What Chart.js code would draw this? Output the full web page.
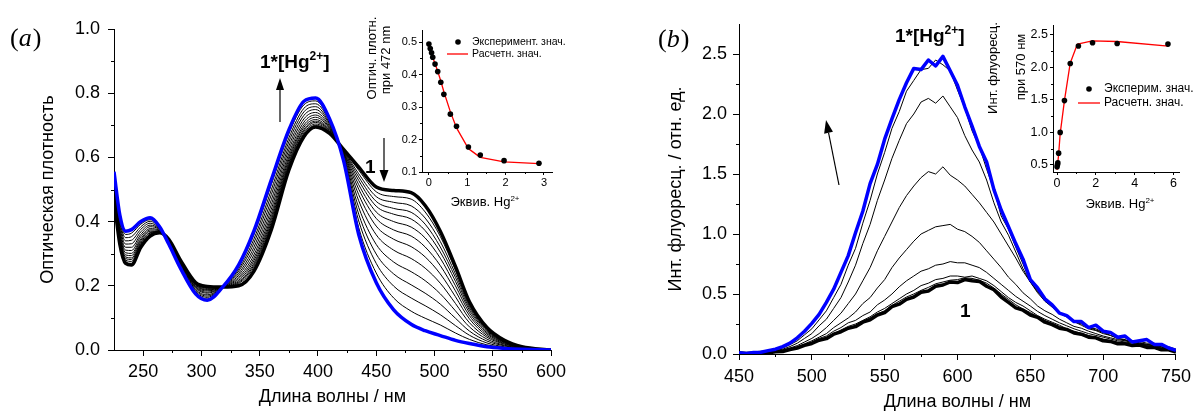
<!DOCTYPE html>
<html>
<head>
<meta charset="utf-8">
<script src="https://cdn.jsdelivr.net/npm/chart.js@4.4.1/dist/chart.umd.min.js"></script>
<style>
  body { margin: 0; background: #fff; }
  #fig { position: relative; width: 1197px; height: 416px; overflow: hidden; background: #fff; }
  #fig canvas { position: absolute; top: 0; }
</style>
</head>
<body>
<div id="fig">
  <canvas id="main-a" width="600" height="416" style="left:0"></canvas>
  <canvas id="inset-a" width="240" height="220" style="left:340px"></canvas>
  <canvas id="main-b" width="597" height="416" style="left:600px"></canvas>
  <canvas id="inset-b" width="237" height="220" style="left:960px"></canvas>
</div>
<script>
// ---- (a) absorption spectra ----
const absWave = [225, 230, 235, 240, 248, 256, 264, 272, 282, 295, 305, 318, 332, 345, 360, 375,
  388, 398, 410, 422, 435, 450, 465, 480, 492, 505, 518, 530, 545, 560, 575, 600];
const absInitial = [0.47, 0.33, 0.27, 0.265, 0.32, 0.355, 0.365, 0.345, 0.28, 0.21, 0.198, 0.196, 0.2, 0.245, 0.375, 0.56,
  0.665, 0.695, 0.675, 0.625, 0.57, 0.508, 0.497, 0.49, 0.45, 0.37, 0.26, 0.15, 0.07, 0.03, 0.01, 0];
const absFinal = [0.555, 0.42, 0.37, 0.375, 0.4, 0.412, 0.385, 0.33, 0.255, 0.175, 0.155, 0.195, 0.265, 0.37, 0.53, 0.685,
  0.775, 0.785, 0.72, 0.59, 0.36, 0.21, 0.125, 0.08, 0.06, 0.045, 0.03, 0.02, 0.01, 0.005, 0.002, 0];
const absMiddle = [
  [0.474, 0.335, 0.275, 0.27, 0.324, 0.358, 0.366, 0.344, 0.279, 0.208, 0.196, 0.196, 0.203, 0.251, 0.383, 0.566, 0.67, 0.7, 0.678, 0.623, 0.56, 0.493, 0.478, 0.47, 0.43, 0.354, 0.249, 0.144, 0.067, 0.029, 0.01, 0],
  [0.479, 0.339, 0.28, 0.276, 0.328, 0.361, 0.367, 0.344, 0.278, 0.207, 0.194, 0.196, 0.207, 0.258, 0.391, 0.573, 0.676, 0.704, 0.68, 0.622, 0.549, 0.478, 0.46, 0.449, 0.411, 0.338, 0.237, 0.137, 0.064, 0.028, 0.009, 0],
  [0.483, 0.344, 0.285, 0.282, 0.332, 0.364, 0.368, 0.343, 0.276, 0.205, 0.192, 0.196, 0.21, 0.264, 0.398, 0.579, 0.682, 0.709, 0.682, 0.62, 0.539, 0.463, 0.441, 0.429, 0.392, 0.321, 0.226, 0.131, 0.061, 0.026, 0.009, 0],
  [0.487, 0.348, 0.29, 0.287, 0.336, 0.366, 0.369, 0.342, 0.275, 0.203, 0.189, 0.196, 0.213, 0.27, 0.406, 0.585, 0.687, 0.713, 0.684, 0.618, 0.528, 0.448, 0.423, 0.408, 0.372, 0.305, 0.214, 0.124, 0.058, 0.025, 0.008, 0],
  [0.492, 0.353, 0.296, 0.294, 0.341, 0.37, 0.37, 0.341, 0.274, 0.201, 0.187, 0.196, 0.217, 0.278, 0.415, 0.593, 0.694, 0.718, 0.687, 0.616, 0.515, 0.43, 0.4, 0.383, 0.349, 0.286, 0.2, 0.116, 0.054, 0.024, 0.008, 0],
  [0.498, 0.36, 0.303, 0.301, 0.346, 0.374, 0.372, 0.34, 0.272, 0.198, 0.184, 0.196, 0.222, 0.286, 0.426, 0.601, 0.701, 0.725, 0.69, 0.613, 0.501, 0.41, 0.374, 0.355, 0.321, 0.263, 0.184, 0.107, 0.05, 0.022, 0.007, 0],
  [0.505, 0.367, 0.311, 0.31, 0.353, 0.378, 0.373, 0.339, 0.27, 0.196, 0.18, 0.196, 0.227, 0.296, 0.439, 0.611, 0.71, 0.732, 0.693, 0.611, 0.484, 0.386, 0.345, 0.322, 0.29, 0.237, 0.166, 0.097, 0.045, 0.02, 0.007, 0],
  [0.513, 0.375, 0.32, 0.32, 0.36, 0.384, 0.375, 0.338, 0.268, 0.193, 0.177, 0.196, 0.233, 0.308, 0.453, 0.623, 0.72, 0.74, 0.697, 0.608, 0.465, 0.359, 0.311, 0.285, 0.255, 0.208, 0.145, 0.085, 0.04, 0.018, 0.006, 0],
  [0.521, 0.384, 0.33, 0.331, 0.368, 0.389, 0.377, 0.336, 0.265, 0.189, 0.172, 0.196, 0.239, 0.32, 0.468, 0.635, 0.731, 0.749, 0.702, 0.604, 0.444, 0.329, 0.274, 0.244, 0.216, 0.175, 0.122, 0.072, 0.034, 0.015, 0.005, 0],
  [0.53, 0.393, 0.34, 0.342, 0.376, 0.395, 0.379, 0.335, 0.263, 0.186, 0.168, 0.196, 0.246, 0.333, 0.484, 0.648, 0.742, 0.758, 0.706, 0.601, 0.423, 0.299, 0.237, 0.203, 0.177, 0.143, 0.099, 0.059, 0.028, 0.013, 0.004, 0],
  [0.538, 0.402, 0.35, 0.353, 0.384, 0.401, 0.381, 0.333, 0.26, 0.182, 0.164, 0.196, 0.252, 0.345, 0.499, 0.66, 0.753, 0.767, 0.711, 0.597, 0.402, 0.27, 0.199, 0.162, 0.138, 0.11, 0.076, 0.046, 0.022, 0.01, 0.004, 0],
  [0.547, 0.411, 0.36, 0.364, 0.392, 0.406, 0.383, 0.332, 0.258, 0.179, 0.159, 0.196, 0.259, 0.358, 0.515, 0.673, 0.764, 0.776, 0.715, 0.594, 0.381, 0.24, 0.162, 0.121, 0.099, 0.078, 0.053, 0.033, 0.016, 0.008, 0.003, 0],
];
const absXTicks = [250, 300, 350, 400, 450, 500, 550, 600];
const absXMinor = [275, 325, 375, 425, 475, 525, 575];
const absYTicks = [0, 0.2, 0.4, 0.6, 0.8, 1.0];
const absYMinor = [0.1, 0.3, 0.5, 0.7, 0.9];

// inset (a): absorbance at 472 nm
const insAEquiv = [0, 0.035, 0.07, 0.1, 0.16, 0.23, 0.31, 0.39, 0.56, 0.72, 1.03, 1.34, 1.96, 2.87];
const insAExp = [0.494, 0.48, 0.467, 0.453, 0.432, 0.409, 0.376, 0.339, 0.278, 0.241, 0.177, 0.152, 0.135, 0.127];
const insAFit = [0.487, 0.476, 0.465, 0.453, 0.433, 0.41, 0.38, 0.347, 0.285, 0.236, 0.172, 0.145, 0.131, 0.126];
const insAXTicks = [0, 1, 2, 3];
const insAYTicks = [0.1, 0.2, 0.3, 0.4, 0.5];

// ---- (b) fluorescence spectra ----
const flWave = [450, 455, 460, 465, 470, 475, 480, 485, 490, 495, 500, 505, 510, 515, 520, 525, 530, 535, 540, 545,
  550, 555, 560, 565, 570, 575, 580, 585, 590, 595, 600, 605, 610, 615, 620, 625, 630, 635, 640, 645,
  650, 655, 660, 665, 670, 675, 680, 685, 690, 695, 700, 705, 710, 715, 720, 725, 730, 735, 740, 745, 750];
const flFinal = [0.01, 0.005, 0.012, 0.015, 0.028, 0.04, 0.062, 0.09, 0.135, 0.19, 0.255, 0.33, 0.43, 0.54, 0.68, 0.82, 1.01, 1.19, 1.42, 1.58,
  1.79, 1.96, 2.12, 2.26, 2.38, 2.37, 2.45, 2.4, 2.48, 2.36, 2.24, 2.06, 1.9, 1.73, 1.6, 1.37, 1.2, 1.06, 0.92, 0.79,
  0.62, 0.55, 0.46, 0.41, 0.34, 0.32, 0.27, 0.27, 0.22, 0.24, 0.19, 0.18, 0.14, 0.15, 0.1, 0.11, 0.12, 0.08, 0.08, 0.05, 0.03];
const flInitial = [0.01, 0.004, 0.008, 0.012, 0.01, 0.018, 0.02, 0.037, 0.05, 0.072, 0.088, 0.115, 0.128, 0.165, 0.185, 0.215, 0.228, 0.265, 0.285, 0.325,
  0.345, 0.395, 0.415, 0.455, 0.475, 0.515, 0.525, 0.565, 0.575, 0.6, 0.595, 0.62, 0.61, 0.605, 0.565, 0.535, 0.475, 0.43, 0.385, 0.365,
  0.325, 0.305, 0.265, 0.245, 0.215, 0.205, 0.175, 0.165, 0.14, 0.135, 0.11, 0.105, 0.085, 0.085, 0.07, 0.075, 0.055, 0.055, 0.035, 0.035, 0.015];
const flMiddle = [
  [0.005, 0.008, 0.01, 0.016, 0.02, 0.034, 0.05, 0.078, 0.11, 0.16, 0.21, 0.285, 0.36, 0.47, 0.58, 0.74, 0.88, 1.09, 1.28, 1.5,
    1.68, 1.88, 2.02, 2.19, 2.28, 2.37, 2.38, 2.45, 2.41, 2.36, 2.2, 2.05, 1.86, 1.73, 1.54, 1.37, 1.15, 1.04, 0.89, 0.75,
    0.6, 0.53, 0.44, 0.4, 0.34, 0.32, 0.27, 0.26, 0.22, 0.21, 0.18, 0.17, 0.14, 0.135, 0.11, 0.105, 0.09, 0.09, 0.07, 0.06, 0.04],
  [0.005, 0.007, 0.01, 0.015, 0.018, 0.03, 0.04, 0.062, 0.09, 0.13, 0.17, 0.235, 0.29, 0.38, 0.47, 0.6, 0.74, 0.92, 1.08, 1.28,
    1.45, 1.63, 1.78, 1.92, 2.0, 2.1, 2.13, 2.09, 2.15, 2.06, 1.97, 1.82, 1.7, 1.6, 1.45, 1.26, 1.1, 0.99, 0.85, 0.71,
    0.6, 0.51, 0.44, 0.39, 0.34, 0.31, 0.27, 0.24, 0.21, 0.195, 0.17, 0.155, 0.13, 0.12, 0.1, 0.095, 0.08, 0.075, 0.06, 0.045, 0.03],
  [0.005, 0.007, 0.01, 0.013, 0.015, 0.025, 0.035, 0.05, 0.07, 0.1, 0.13, 0.17, 0.22, 0.28, 0.34, 0.42, 0.5, 0.61, 0.72, 0.86,
    0.98, 1.1, 1.22, 1.32, 1.4, 1.47, 1.52, 1.5, 1.56, 1.49, 1.45, 1.4, 1.33, 1.26, 1.18, 1.1, 1.0, 0.9, 0.8, 0.69,
    0.6, 0.52, 0.45, 0.4, 0.34, 0.31, 0.27, 0.25, 0.22, 0.2, 0.18, 0.155, 0.13, 0.115, 0.1, 0.09, 0.08, 0.07, 0.06, 0.045, 0.03],
  [0.005, 0.006, 0.008, 0.011, 0.013, 0.022, 0.03, 0.043, 0.06, 0.085, 0.11, 0.14, 0.17, 0.22, 0.26, 0.3, 0.35, 0.42, 0.47, 0.55,
    0.62, 0.72, 0.8, 0.87, 0.94, 1.0, 1.03, 1.06, 1.07, 1.08, 1.04, 1.02, 0.98, 0.93, 0.86, 0.79, 0.72, 0.64, 0.58, 0.51,
    0.46, 0.4, 0.36, 0.33, 0.29, 0.26, 0.23, 0.215, 0.19, 0.17, 0.15, 0.135, 0.12, 0.11, 0.095, 0.085, 0.075, 0.068, 0.055, 0.045, 0.03],
  [0.005, 0.006, 0.008, 0.01, 0.012, 0.018, 0.025, 0.04, 0.055, 0.08, 0.1, 0.13, 0.15, 0.19, 0.22, 0.26, 0.28, 0.32, 0.35, 0.41,
    0.45, 0.5, 0.56, 0.61, 0.65, 0.69, 0.71, 0.74, 0.75, 0.77, 0.76, 0.76, 0.74, 0.72, 0.68, 0.63, 0.58, 0.53, 0.48, 0.44,
    0.4, 0.355, 0.32, 0.29, 0.26, 0.235, 0.21, 0.19, 0.17, 0.155, 0.14, 0.125, 0.11, 0.1, 0.09, 0.08, 0.07, 0.062, 0.05, 0.042, 0.03],
  [0.005, 0.006, 0.008, 0.01, 0.012, 0.017, 0.022, 0.037, 0.052, 0.075, 0.095, 0.12, 0.14, 0.17, 0.2, 0.23, 0.25, 0.28, 0.31, 0.35,
    0.38, 0.42, 0.46, 0.5, 0.53, 0.57, 0.59, 0.62, 0.63, 0.65, 0.65, 0.64, 0.65, 0.63, 0.61, 0.57, 0.52, 0.47, 0.43, 0.4,
    0.36, 0.32, 0.29, 0.265, 0.24, 0.21, 0.19, 0.172, 0.155, 0.14, 0.125, 0.112, 0.1, 0.09, 0.08, 0.073, 0.065, 0.055, 0.045, 0.035, 0.025],
  [0.005, 0.006, 0.008, 0.01, 0.012, 0.016, 0.021, 0.036, 0.051, 0.072, 0.092, 0.115, 0.135, 0.168, 0.195, 0.215, 0.24, 0.275, 0.3, 0.335,
    0.36, 0.405, 0.44, 0.475, 0.5, 0.53, 0.555, 0.585, 0.6, 0.615, 0.62, 0.635, 0.63, 0.615, 0.59, 0.55, 0.5, 0.455, 0.41, 0.375,
    0.345, 0.31, 0.28, 0.255, 0.23, 0.205, 0.185, 0.165, 0.15, 0.135, 0.12, 0.108, 0.095, 0.087, 0.078, 0.07, 0.062, 0.052, 0.042, 0.032, 0.022],
];
const flXTicks = [450, 500, 550, 600, 650, 700, 750];
const flXMinor = [475, 525, 575, 625, 675, 725];
const flYTicks = [0, 0.5, 1.0, 1.5, 2.0, 2.5];
const flYMinor = [0.25, 0.75, 1.25, 1.75, 2.25];

// inset (b): fluorescence at 570 nm
const insBEquiv = [0, 0.02, 0.04, 0.08, 0.16, 0.38, 0.68, 1.1, 1.83, 3.1, 5.72];
const insBExp = [0.47, 0.5, 0.53, 0.68, 1.0, 1.49, 2.06, 2.33, 2.38, 2.37, 2.36];
const insBFitEquiv = [0, 0.08, 0.16, 0.38, 0.68, 1.05, 1.82, 3.08, 5.74];
const insBFit = [0.42, 0.66, 0.98, 1.49, 2.07, 2.36, 2.41, 2.4, 2.33];
const insBXTicks = [0, 2, 4, 6];
const insBYTicks = [0.5, 1.0, 1.5, 2.0, 2.5];

const FONT = '"Liberation Sans", Arial, sans-serif';
Chart.defaults.font.family = FONT;
Chart.defaults.color = '#000';

function series(xs, ys, color, width, smooth) {
  return {
    data: xs.map((x, i) => ({ x: x, y: ys[i] })),
    borderColor: color,
    borderWidth: width,
    borderJoinStyle: 'round',
    pointRadius: 0,
    fill: false,
    tension: 0,
    cubicInterpolationMode: smooth ? 'monotone' : 'default',
  };
}

function dots(xs, ys) {
  return {
    data: xs.map((x, i) => ({ x: x, y: ys[i] })),
    showLine: false,
    pointRadius: 2.8,
    pointBackgroundColor: '#000',
    pointBorderWidth: 0,
    clip: false,
  };
}

function axis(o) {
  return {
    type: 'linear',
    min: o.min,
    max: o.max,
    afterBuildTicks: (scale) => {
      scale.ticks = o.ticks.map((v) => ({ value: v }));
    },
    afterFit: (scale) => {
      if (o.width) scale.width = o.width;
      if (o.height) scale.height = o.height;
    },
    ticks: { autoSkip: false, maxRotation: 0, padding: o.pad, color: '#000', font: { size: o.font }, callback: o.fmt },
    grid: { drawOnChartArea: false, drawTicks: true, tickLength: o.tick, tickColor: '#000', tickWidth: 1 },
    border: { display: true, color: '#000', width: 1 },
    title: o.title
      ? { display: true, text: o.title, color: '#000', font: { size: 18 }, padding: o.titlePad }
      : { display: false },
  };
}

// short unlabeled ticks between the labeled ones
const minorTicks = {
  id: 'minorTicks',
  afterDraw(chart, args, opts) {
    const { ctx } = chart;
    const x = chart.scales.x;
    const y = chart.scales.y;
    ctx.save();
    ctx.strokeStyle = '#000';
    ctx.lineWidth = 1;
    ctx.beginPath();
    (opts.x || []).forEach((v) => {
      const px = Math.round(x.getPixelForValue(v)) + 0.5;
      ctx.moveTo(px, x.top);
      ctx.lineTo(px, x.top + opts.len);
    });
    (opts.y || []).forEach((v) => {
      const py = Math.round(y.getPixelForValue(v)) + 0.5;
      ctx.moveTo(y.right, py);
      ctx.lineTo(y.right - opts.len, py);
    });
    ctx.stroke();
    ctx.restore();
  },
};

function arrow(ctx, x1, y1, x2, y2, head, half) {
  const a = Math.atan2(y2 - y1, x2 - x1);
  const bx = x2 - head * Math.cos(a);
  const by = y2 - head * Math.sin(a);
  ctx.beginPath();
  ctx.moveTo(x1, y1);
  ctx.lineTo(bx, by);
  ctx.stroke();
  ctx.beginPath();
  ctx.moveTo(x2, y2);
  ctx.lineTo(bx + half * Math.sin(a), by - half * Math.cos(a));
  ctx.lineTo(bx - half * Math.sin(a), by + half * Math.cos(a));
  ctx.closePath();
  ctx.fill();
}

// text with "2+" raised after the lead part
function hgText(ctx, x, y, size, weight, lead, tail, centered) {
  const sup = Math.round(size * 0.62);
  const big = `${weight} ${size}px ${FONT}`;
  const small = `${weight} ${sup}px ${FONT}`;
  ctx.font = big;
  const w1 = ctx.measureText(lead).width;
  const w3 = ctx.measureText(tail).width;
  ctx.font = small;
  const w2 = ctx.measureText('2+').width;
  if (centered) x -= (w1 + w2 + w3) / 2;
  ctx.font = big;
  ctx.fillText(lead, x, y);
  ctx.font = small;
  ctx.fillText('2+', x + w1, y - size * 0.42);
  ctx.font = big;
  ctx.fillText(tail, x + w1 + w2, y);
}

function panelLetter(ctx, letter, x, y) {
  ctx.font = '26px "Liberation Serif"';
  ctx.fillText('(', x, y);
  x += ctx.measureText('(').width;
  ctx.font = 'italic 26px "Liberation Serif"';
  ctx.fillText(letter, x, y);
  x += ctx.measureText(letter).width + 1;
  ctx.font = '26px "Liberation Serif"';
  ctx.fillText(')', x, y);
}

function vText(ctx, s, cx, cy, size) {
  ctx.save();
  ctx.translate(cx, cy);
  ctx.rotate(-Math.PI / 2);
  ctx.font = `${size}px ${FONT}`;
  ctx.textAlign = 'center';
  ctx.textBaseline = 'middle';
  ctx.fillText(s, 0, 0);
  ctx.restore();
}

function legendRows(ctx, dotX, lineX1, lineX2, textX, y1, y2, size, labels) {
  ctx.beginPath();
  ctx.arc(dotX, y1, 2.8, 0, Math.PI * 2);
  ctx.fill();
  ctx.strokeStyle = '#ff0000';
  ctx.lineWidth = 1.3;
  ctx.beginPath();
  ctx.moveTo(lineX1, y2);
  ctx.lineTo(lineX2, y2);
  ctx.stroke();
  ctx.font = `${size}px ${FONT}`;
  ctx.textBaseline = 'middle';
  ctx.fillText(labels[0], textX, y1);
  ctx.fillText(labels[1], textX, y2);
  ctx.textBaseline = 'alphabetic';
}

function startDraw(ctx) {
  ctx.save();
  ctx.fillStyle = '#000';
  ctx.strokeStyle = '#000';
  ctx.textAlign = 'left';
  ctx.textBaseline = 'alphabetic';
}

const notesA = {
  id: 'notesA',
  afterDraw(chart) {
    const ctx = chart.ctx;
    startDraw(ctx);
    panelLetter(ctx, 'a', 10, 46);
    hgText(ctx, 260, 68, 19, 'bold', '1*[Hg', ']');
    ctx.lineWidth = 1.2;
    arrow(ctx, 280, 122, 280, 78, 12, 4);
    ctx.font = `bold 19px ${FONT}`;
    ctx.fillText('1', 365, 173);
    arrow(ctx, 384, 138, 384, 182, 12, 4.5);
    ctx.restore();
  },
};

const notesB = {
  id: 'notesB',
  afterDraw(chart) {
    const ctx = chart.ctx;
    startDraw(ctx);
    panelLetter(ctx, 'b', 58, 47);
    hgText(ctx, 295, 42, 19, 'bold', '1*[Hg', ']');
    ctx.lineWidth = 1.2;
    arrow(ctx, 239, 185, 226, 120, 13, 4.5);
    ctx.font = `bold 19px ${FONT}`;
    ctx.fillText('1', 360, 317);
    ctx.restore();
  },
};

const notesInsetA = {
  id: 'notesInsetA',
  afterDraw(chart) {
    const ctx = chart.ctx;
    startDraw(ctx);
    legendRows(ctx, 118, 107, 128, 132, 42, 54, 10.5, ['Эксперимент. знач.', 'Расчетн. знач.']);
    ctx.fillStyle = '#000';
    vText(ctx, 'Оптич. плотн.', 32, 58, 13);
    vText(ctx, 'при 472 nm', 46, 60, 13);
    hgText(ctx, 145, 206, 13, 'normal', 'Эквив. Hg', '', true);
    ctx.restore();
  },
};

const notesInsetB = {
  id: 'notesInsetB',
  afterDraw(chart) {
    const ctx = chart.ctx;
    startDraw(ctx);
    legendRows(ctx, 129, 118, 140, 144, 89, 103, 12, ['Эксперим. знач.', 'Расчетн. знач.']);
    ctx.fillStyle = '#000';
    vText(ctx, 'Инт. флуоресц.', 33, 68, 13);
    vText(ctx, 'при 570 нм', 61, 67, 13);
    hgText(ctx, 160, 208, 13, 'normal', 'Эквив. Hg', '', true);
    ctx.restore();
  },
};

function baseOptions(padding, plugins, scales) {
  return {
    animation: false,
    responsive: false,
    devicePixelRatio: 1,
    events: [],
    layout: { padding: padding },
    plugins: Object.assign({ legend: { display: false }, tooltip: { enabled: false } }, plugins),
    scales: scales,
  };
}

const fix1 = (v) => v.toFixed(1);
const plain = (v) => String(v);

// (a) main
const absSets = [series(absWave, absFinal, '#0000ff', 3.5, true)]
  .concat(absMiddle.slice().reverse().map((c) => series(absWave, c, '#000', 1, true)))
  .concat([series(absWave, absInitial, '#000', 3.5, true)]);

new Chart(document.getElementById('main-a'), {
  type: 'line',
  data: { datasets: absSets },
  options: baseOptions(
    { top: 29, right: 49, left: 0, bottom: 0 },
    { minorTicks: { x: absXMinor, y: absYMinor, len: 3 } },
    {
      x: axis({ min: 225, max: 600, ticks: absXTicks, height: 66, tick: 6, pad: 5, font: 18, fmt: plain,
        title: 'Длина волны / нм', titlePad: { top: 0, bottom: 8 } }),
      y: axis({ min: 0, max: 1, ticks: absYTicks, width: 114, tick: 6, pad: 8, font: 18, fmt: fix1,
        title: 'Оптическая плотность', titlePad: { top: 37, bottom: 0 } }),
    }
  ),
  plugins: [minorTicks, notesA],
});

// (a) inset
new Chart(document.getElementById('inset-a'), {
  type: 'line',
  data: {
    datasets: [
      dots(insAEquiv, insAExp),
      series(insAEquiv, insAFit, '#ff0000', 1.3, false),
    ],
  },
  options: baseOptions(
    { top: 30, right: 28, left: 0, bottom: 0 },
    { minorTicks: { x: [0.5, 1.5, 2.5], y: [0.15, 0.25, 0.35, 0.45], len: 2 } },
    {
      x: axis({ min: -0.18, max: 3.21, ticks: insAXTicks, height: 48, tick: 3, pad: 1, font: 11, fmt: plain }),
      y: axis({ min: 0.1, max: 0.537, ticks: insAYTicks, width: 82, tick: 3, pad: 2, font: 11, fmt: fix1 }),
    }
  ),
  plugins: [minorTicks, notesInsetA],
});

// (b) main
const flSets = [series(flWave, flFinal, '#0000ff', 3.5, false)]
  .concat(flMiddle.map((c) => series(flWave, c, '#000', 1, false)))
  .concat([series(flWave, flInitial, '#000', 3.5, false)]);

new Chart(document.getElementById('main-b'), {
  type: 'line',
  data: { datasets: flSets },
  options: baseOptions(
    { top: 24, right: 18, left: 0, bottom: 0 },
    { minorTicks: { x: flXMinor, y: flYMinor, len: 3 } },
    {
      x: axis({ min: 450, max: 750, ticks: flXTicks, height: 62, tick: 6, pad: 6, font: 18, fmt: plain,
        title: 'Длина волны / нм', titlePad: { top: 0, bottom: 3 } }),
      y: axis({ min: 0, max: 2.75, ticks: flYTicks, width: 139, tick: 6, pad: 6, font: 18, fmt: fix1,
        title: 'Инт. флуоресц. / отн. ед.', titlePad: { top: 65, bottom: 0 } }),
    }
  ),
  plugins: [minorTicks, notesB],
});

// (b) inset
new Chart(document.getElementById('inset-b'), {
  type: 'line',
  data: {
    datasets: [
      dots(insBEquiv, insBExp),
      series(insBFitEquiv, insBFit, '#ff0000', 1.3, false),
    ],
  },
  options: baseOptions(
    { top: 25, right: 18, left: 0, bottom: 0 },
    { minorTicks: { x: [1, 3, 5], y: [0.75, 1.25, 1.75, 2.25], len: 2 } },
    {
      x: axis({ min: -0.21, max: 6.29, ticks: insBXTicks, height: 48, tick: 3, pad: 1, font: 12.5, fmt: plain }),
      y: axis({ min: 0.39, max: 2.654, ticks: insBYTicks, width: 93, tick: 3, pad: 2, font: 12.5, fmt: fix1 }),
    }
  ),
  plugins: [minorTicks, notesInsetB],
});
</script>
</body>
</html>
